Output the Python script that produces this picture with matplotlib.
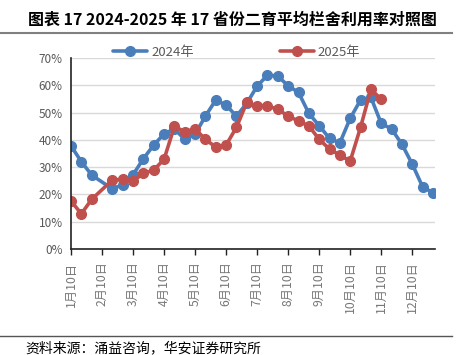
import numpy as np
import matplotlib
matplotlib.use('Agg')
import matplotlib.pyplot as plt
from matplotlib.lines import Line2D
from matplotlib.ticker import FuncFormatter

plt.rcParams['font.family'] = ['Noto Sans CJK SC', 'DejaVu Sans']

# 10-day points: 1/10, 1/20, 1/30, 2/10 ... 12/30 (2/10 missing in both years)
months = ['1月10日', '2月10日', '3月10日', '4月10日', '5月10日', '6月10日',
          '7月10日', '8月10日', '9月10日', '10月10日', '11月10日', '12月10日']

y2024 = [37.8, 32.0, 27.1, np.nan, 22.0, 23.6, 27.2, 33.1, 38.1, 42.2,
         44.0, 40.2, 42.1, 48.7, 54.6, 52.7, 48.7, 53.4, 59.7, 63.7,
         63.4, 59.8, 57.4, 49.7, 45.2, 40.5, 38.9, 47.9, 54.6, 55.6,
         46.0, 44.0, 38.4, 31.1, 22.8, 20.6]
y2025 = [17.6, 12.9, 18.2, np.nan, 25.3, 25.5, 24.9, 27.7, 28.9, 32.9,
         44.9, 43.0, 44.0, 40.2, 37.3, 38.1, 44.6, 53.7, 52.4, 52.4,
         51.2, 48.7, 46.9, 45.1, 40.2, 36.6, 34.4, 32.2, 44.6, 58.5,
         54.9]

BLUE = '#4a7ebb'
RED = '#c0504d'
GRAY = '#595959'

fig = plt.figure(figsize=(4.65, 3.55), dpi=100)
ax = fig.add_axes([0.1527, 0.2986, 0.7828, 0.538])

for vals, col, lab in [(y2024, BLUE, '2024年'), (y2025, RED, '2025年')]:
    v = np.array(vals) / 100
    x = np.arange(len(v))
    ok = ~np.isnan(v)
    ax.plot(x[ok], v[ok], color=col, lw=2.6, marker='o', ms=7,
            label=lab, solid_capstyle='round')

ax.set_ylim(0, 0.7)
ax.set_xlim(0, 35.2)
ax.set_yticks(np.arange(0, 0.71, 0.1))
ax.yaxis.set_major_formatter(FuncFormatter(lambda v, p: f'{v*100:.0f}%'))
ax.set_xticks(np.arange(0, 36, 3))
ax.set_xticklabels(months, rotation=90, color='#777777', fontsize=8.8)
ax.tick_params(axis='y', length=0, labelcolor=GRAY, labelsize=8.5, pad=6)
ax.tick_params(axis='x', length=4, width=1, direction='out', color='#222222', pad=5)
ax.grid(axis='y', color='#d9d9d9', lw=1)
ax.set_axisbelow(True)
for s in ['top', 'right']:
    ax.spines[s].set_visible(False)
ax.spines['left'].set_color('#222222')
ax.spines['bottom'].set_color('#222222')
ax.spines['left'].set_linewidth(1.2)
ax.spines['bottom'].set_linewidth(1.2)

fig.legend(loc='center', bbox_to_anchor=(0.509, 0.8535), ncol=2, frameon=False,
           fontsize=9.5, handlelength=2.6, columnspacing=6.5, handletextpad=0.3,
           labelcolor=GRAY)

fig.text(0.5, 0.945, '图表 17 2024-2025 年 17 省份二育平均栏舍利用率对照图',
         ha='center', va='center', fontsize=11.5, fontweight='bold', color='black')
fig.add_artist(Line2D([0, 0.972], [0.907, 0.907], color='#808080', lw=1.5))
fig.add_artist(Line2D([0, 0.972], [0.0535, 0.0535], color='#555555', lw=1))
fig.text(0.054, 0.02, '资料来源：涌益咨询，华安证券研究所', ha='left', va='center',
         fontsize=10, color='black')

fig.savefig('out.png', dpi=100)
